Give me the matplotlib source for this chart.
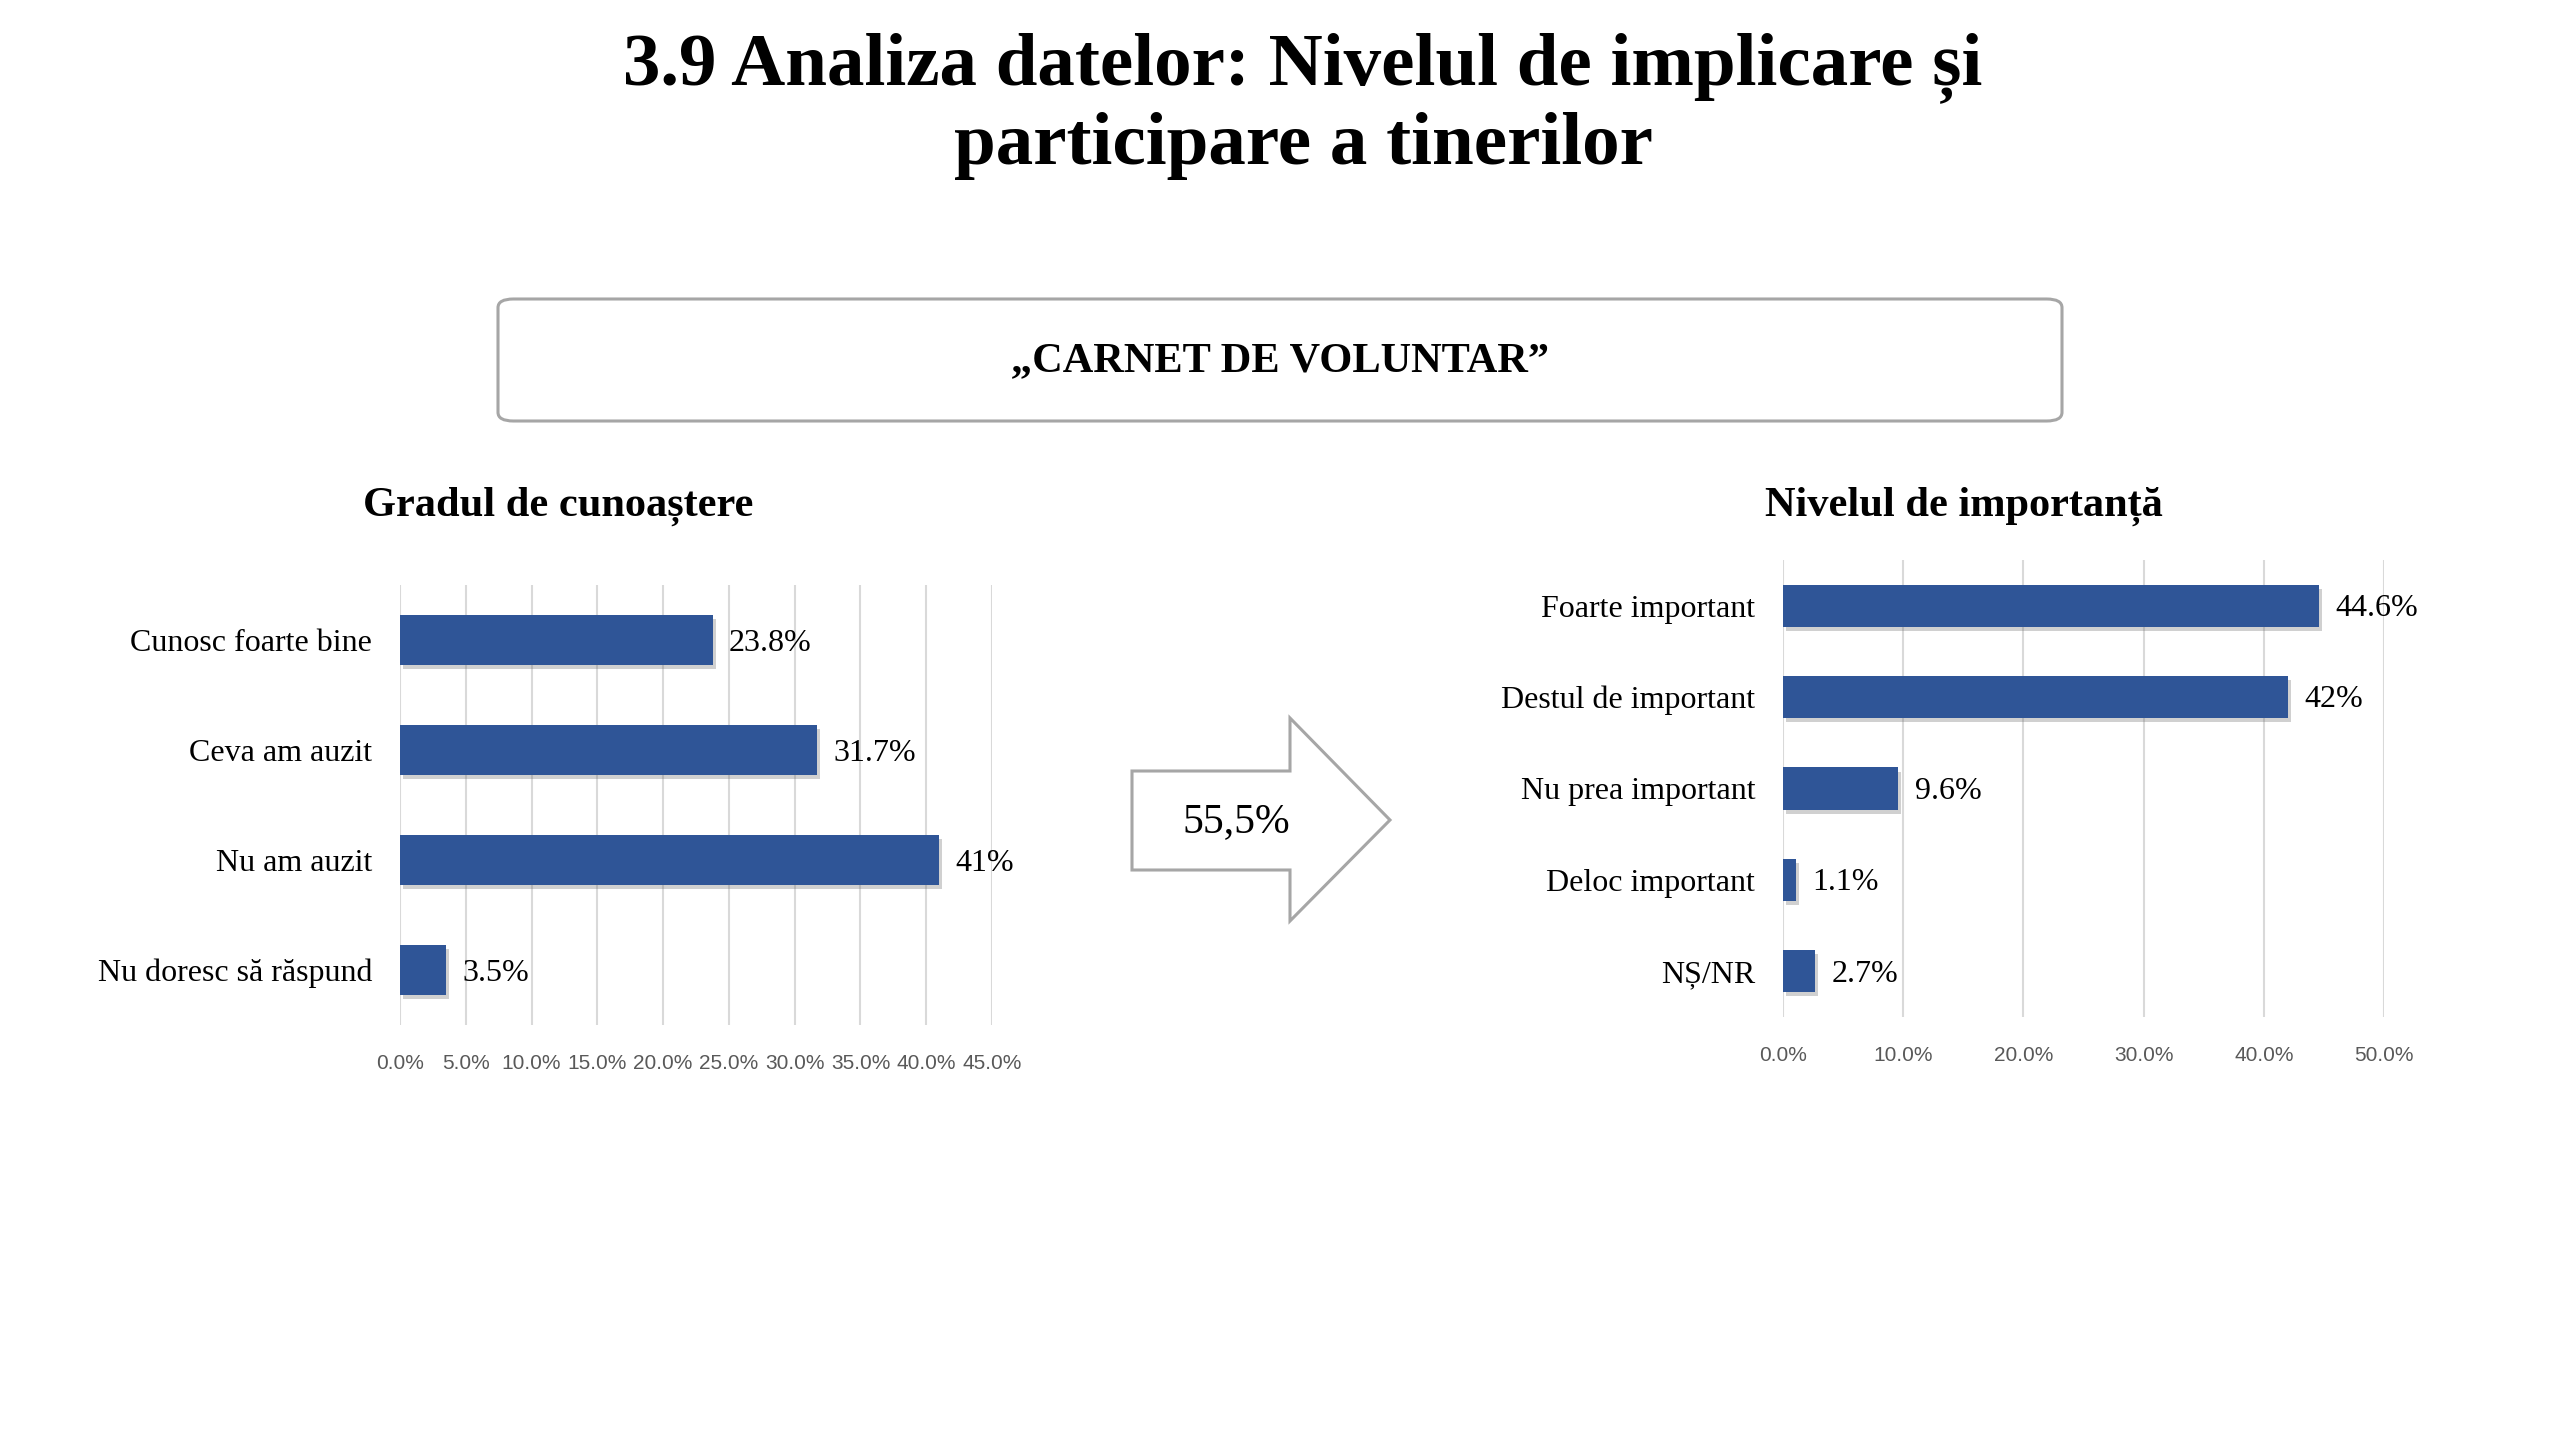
import numpy as np
import matplotlib
matplotlib.use('Agg')
import matplotlib.pyplot as plt
from matplotlib.patches import FancyBboxPatch, Polygon
import matplotlib.patheffects as pe

# data
left_title = 'Gradul de cunoaștere'
left_cats = ['Cunosc foarte bine', 'Ceva am auzit', 'Nu am auzit', 'Nu doresc să răspund']
left_vals = [23.8, 31.7, 41.0, 3.5]
left_lbls = ['23.8%', '31.7%', '41%', '3.5%']
left_ticks = [0, 5, 10, 15, 20, 25, 30, 35, 40, 45]

right_title = 'Nivelul de importanță'
right_cats = ['Foarte important', 'Destul de important', 'Nu prea important', 'Deloc important', 'NȘ/NR']
right_vals = [44.6, 42.0, 9.6, 1.1, 2.7]
right_lbls = ['44.6%', '42%', '9.6%', '1.1%', '2.7%']
right_ticks = [0, 10, 20, 30, 40, 50]

arrow_text = '55,5%'
main_title = '3.9 Analiza datelor: Nivelul de implicare și\nparticipare a tinerilor'
box_text = '„CARNET DE VOLUNTAR”'

BAR = '#2F5597'
GRID = '#D9D9D9'
TICK = '#595959'
EDGE = '#A6A6A6'
SERIF = ['Liberation Serif', 'DejaVu Serif']

W, H = 2560, 1440
fig = plt.figure(figsize=(W / 100, H / 100), dpi=100)
fig.patch.set_facecolor('white')


def fx(px):
    return px / W


def fy(py):
    return 1 - py / H


fig.text(fx(1303), fy(106), main_title, ha='center', va='center', fontsize=54,
         fontweight='bold', family=SERIF, linespacing=1.17)

box = FancyBboxPatch((fx(498), fy(421)), fx(2062) - fx(498), fy(299) - fy(421),
                     boxstyle='round,pad=0,rounding_size=0.006', transform=fig.transFigure,
                     facecolor='white', edgecolor=EDGE, linewidth=2.2)
fig.patches.append(box)
fig.text(fx(1280), fy(361), box_text, ha='center', va='center', fontsize=30.5,
         fontweight='bold', family=SERIF)


def bar_chart(rect, cats, vals, lbls, ticks, xmax, title, title_x, bh):
    ax = fig.add_axes(rect)
    y = np.arange(len(cats))
    bars = ax.barh(y, vals, height=bh, color=BAR, zorder=3)
    for b in bars:
        b.set_path_effects([pe.SimplePatchShadow(offset=(2, -3), alpha=0.3, shadow_rgbFace='#666666'),
                            pe.Normal()])
    for yi, v, t in zip(y, vals, lbls):
        ax.text(v + xmax * 0.027, yi + 0.03, t, va='center', ha='left', fontsize=23, family=SERIF)
    ax.set_ylim(len(cats) - 0.5, -0.5)
    ax.set_xlim(0, xmax)
    ax.set_yticks(y)
    ax.set_yticklabels(cats, fontsize=23, family=SERIF)
    ax.set_xticks(ticks)
    ax.set_xticklabels(['%.1f%%' % t for t in ticks], fontsize=15, color=TICK,
                       family=['Liberation Sans Narrow', 'Liberation Sans'])
    ax.tick_params(axis='y', length=0, pad=20)
    ax.tick_params(axis='x', length=0, pad=21)
    ax.grid(axis='x', color=GRID, linewidth=1.5, zorder=0)
    for s in ax.spines.values():
        s.set_visible(False)
    fig.text(fx(title_x), fy(506), title, ha='center', va='center', fontsize=30.5,
             fontweight='bold', family=SERIF)
    return ax


bar_chart([fx(400), fy(1025), fx(992) - fx(400), fy(585) - fy(1025)],
          left_cats, left_vals, left_lbls, left_ticks, 45, left_title, 558, 0.46)
bar_chart([fx(1783), fy(1017), fx(2384) - fx(1783), fy(560) - fy(1017)],
          right_cats, right_vals, right_lbls, right_ticks, 50, right_title, 1964, 0.46)

# arrow shape
pts = [(1132, 771), (1290, 771), (1290, 718), (1390, 820), (1290, 921), (1290, 870), (1132, 870)]
arrow = Polygon([(fx(a), fy(b)) for a, b in pts], closed=True, transform=fig.transFigure,
                facecolor='white', edgecolor=EDGE, linewidth=2.2)
fig.patches.append(arrow)
fig.text(fx(1236), fy(822), arrow_text, ha='center', va='center', fontsize=30, family=SERIF)

fig.savefig('out.png', dpi=100)
